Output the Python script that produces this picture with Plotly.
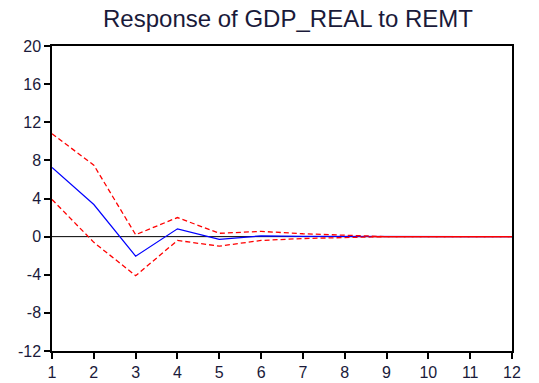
import plotly.graph_objects as go

# Impulse response of GDP_REAL to a REMT shock, with +/- 2 S.E. bands
periods = list(range(1, 13))
response = [7.26, 3.37, -2.05, 0.82, -0.28, 0.08, 0.02, 0.0, 0.0, 0.0, 0.0, 0.0]
upper_band = [10.8, 7.5, 0.2, 2.0, 0.35, 0.55, 0.3, 0.12, 0.0, 0.0, 0.0, 0.0]
lower_band = [3.9, -0.6, -4.1, -0.4, -1.0, -0.4, -0.2, -0.1, 0.0, 0.0, 0.0, 0.0]
y_ticks = [-12, -8, -4, 0, 4, 8, 12, 16, 20]

# periods where the two bands have collapsed onto each other
tail_x = [p for p, u, l in zip(periods, upper_band, lower_band) if u == l]
tail_y = [u for u, l in zip(upper_band, lower_band) if u == l]

fig = go.Figure()

# zero reference line
fig.add_trace(go.Scatter(x=[periods[0], periods[-1]], y=[0, 0], mode="lines",
                         line=dict(color="black", width=1), hoverinfo="skip"))

fig.add_trace(go.Scatter(x=periods, y=response, mode="lines",
                         line=dict(color="#0000FF", width=1.2)))
fig.add_trace(go.Scatter(x=periods, y=upper_band, mode="lines",
                         line=dict(color="#FF0000", width=1.3, dash="5px,3px")))
fig.add_trace(go.Scatter(x=periods, y=lower_band, mode="lines",
                         line=dict(color="#FF0000", width=1.3, dash="5px,3px")))
# converged bands render as one continuous line
fig.add_trace(go.Scatter(x=[tail_x[0] - 0.35] + tail_x, y=[tail_y[0]] + tail_y,
                         mode="lines", line=dict(color="#FF0000", width=1.3)))

font_family = "Liberation Sans, Arial, sans-serif"
text_color = "#1a1a3a"

fig.update_layout(
    width=539, height=383,
    margin=dict(l=52, r=27, t=46, b=32),
    paper_bgcolor="white", plot_bgcolor="white",
    showlegend=False,
    title=dict(text="Response of GDP_REAL to REMT", x=0.5 + 6 / 460, xref="paper",
               xanchor="center", y=1 - 19 / 383, yanchor="middle",
               font=dict(family=font_family, size=24, color=text_color)),
    font=dict(family=font_family, size=16, color=text_color),
)

fig.update_xaxes(range=[1, 12], tickvals=periods, ticktext=[str(p) for p in periods],
                 showgrid=False, zeroline=False, showline=True, linecolor="black",
                 linewidth=1.5, mirror=True, ticks="outside", ticklen=6,
                 tickcolor="black", tickwidth=1.5, automargin=False)
fig.update_yaxes(range=[-12, 20], tickvals=y_ticks, ticktext=[str(v) for v in y_ticks],
                 showgrid=False, zeroline=False, showline=True, linecolor="black",
                 linewidth=1.5, mirror=True, ticks="outside", ticklen=6,
                 tickcolor="black", tickwidth=1.5, automargin=False)

fig.write_html("out.html")
